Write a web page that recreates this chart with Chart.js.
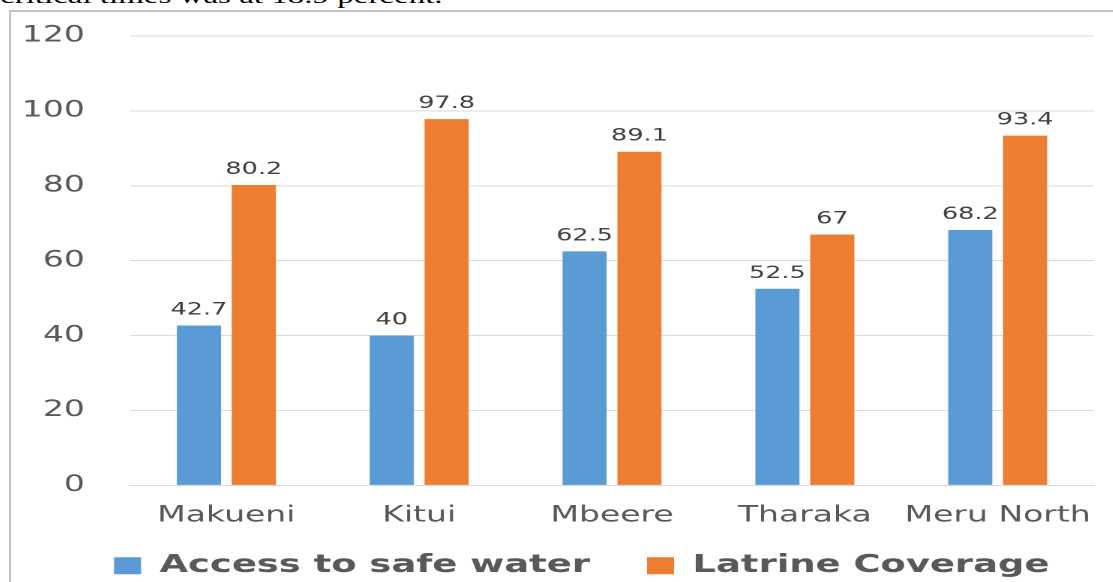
<!DOCTYPE html>
<html>
<head>
<meta charset="utf-8">
<script src="https://cdn.jsdelivr.net/npm/chart.js@4/dist/chart.umd.min.js"></script>
<style>
  html, body { margin: 0; padding: 0; background: #fff; overflow: hidden; }
  body { width: 1113px; height: 582px; position: relative; }
  .lead {
    position: absolute; left: 0; top: -15px;
    font: 22px/22px "Liberation Serif", "Times New Roman", serif;
    color: #000; white-space: nowrap;
    transform: scaleX(1.5); transform-origin: 0 0;
  }
  .frame {
    position: absolute; left: 9px; top: 10px; width: 1200px; height: 700px;
    border-left: 2px solid #c4c4c4; border-top: 2px solid #c4c4c4;
  }
  .wrap {
    position: absolute; left: 11px; top: 12px; width: 737px; height: 595px;
    transform: scaleX(1.5); transform-origin: 0 0;
  }
</style>
</head>
<body>
<div class="lead">critical times was at 18.9 percent.</div>
<div class="frame"></div>
<div class="wrap"><canvas id="c" width="737" height="595"></canvas></div>
<script>
const districts = ['Makueni', 'Kitui', 'Mbeere', 'Tharaka', 'Meru North'];
const safeWater = [42.7, 40, 62.5, 52.5, 68.2];
const latrineCoverage = [80.2, 97.8, 89.1, 67, 93.4];
const seriesNames = ['Access to safe water', 'Latrine Coverage'];
const yTicks = [0, 20, 40, 60, 80, 100, 120];

const FONT = '"DejaVu Sans", sans-serif';

// Writes each bar's value just above its top
const valueLabels = {
  id: 'valueLabels',
  afterDatasetsDraw(chart) {
    const ctx = chart.ctx;
    ctx.save();
    ctx.font = '17px ' + FONT;
    ctx.fillStyle = '#404040';
    ctx.textAlign = 'center';
    ctx.textBaseline = 'alphabetic';
    chart.data.datasets.forEach((ds, i) => {
      chart.getDatasetMeta(i).data.forEach((bar, j) => {
        ctx.fillText(String(ds.data[j]), bar.x, bar.y - 11);
      });
    });
    ctx.restore();
  }
};

// Nudges the legend right of centre and pulls it up under the axis labels
const legendPlace = {
  id: 'legendPlace',
  afterLayout(chart) {
    const lg = chart.legend;
    if (lg) { lg.left += 13; lg.right += 13; lg.top -= 15; lg.bottom -= 15; }
  }
};

new Chart(document.getElementById('c'), {
  type: 'bar',
  data: {
    labels: districts,
    datasets: [
      { label: seriesNames[0], data: safeWater, backgroundColor: '#5b9bd5' },
      { label: seriesNames[1], data: latrineCoverage, backgroundColor: '#ed7d31' }
    ]
  },
  options: {
    responsive: false,
    devicePixelRatio: 2,
    animation: false,
    layout: { padding: { left: 0, right: 2, top: 24, bottom: 4 } },
    datasets: { bar: { categoryPercentage: 0.569, barPercentage: 0.804 } },
    plugins: {
      legend: {
        position: 'bottom',
        labels: {
          boxWidth: 18, boxHeight: 17, padding: 38,
          color: '#595959',
          font: { family: FONT, size: 24.6, weight: 'bold' }
        }
      },
      tooltip: { enabled: false }
    },
    scales: {
      x: {
        grid: { display: false, drawTicks: false },
        border: { color: '#d9d9d9', width: 1 },
        ticks: { color: '#595959', padding: 17, font: { family: FONT, size: 22 } },
        afterFit(s) { s.height = 45; }
      },
      y: {
        min: 0, max: 120,
        afterBuildTicks(s) { s.ticks = yTicks.map(v => ({ value: v })); },
        grid: { color: '#d9d9d9', drawTicks: false },
        border: { display: false },
        ticks: { color: '#595959', padding: 30, font: { family: FONT, size: 22 } },
        afterFit(s) { s.width = 79.3; s.paddingTop = 13; s.paddingBottom = 13; }
      }
    }
  },
  plugins: [valueLabels, legendPlace]
});
</script>
</body>
</html>
